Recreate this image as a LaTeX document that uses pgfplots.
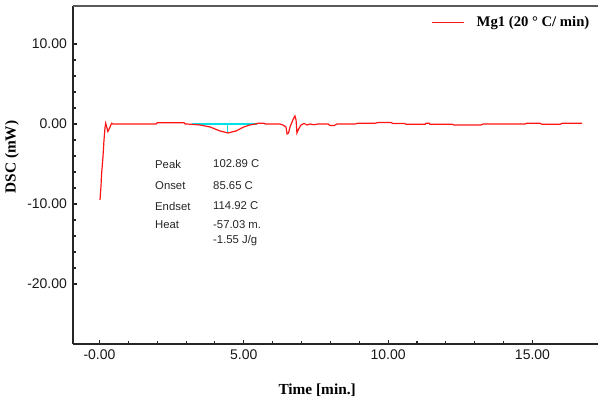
\documentclass[border=0pt]{standalone}
\usepackage{pgfplots}
\pgfplotsset{compat=1.18}
\usepackage{fontspec}
\setmainfont{Liberation Sans}
\newfontfamily\serifb{Liberation Serif}
\definecolor{dscred}{RGB}{255,20,20}
\definecolor{dsccyan}{RGB}{0,225,230}
\begin{document}
\begin{tikzpicture}
\begin{axis}[
  scale only axis, width=393.75pt, height=253.5pt,
  xmin=-0.918, xmax=17.27, ymin=-27.5, ymax=14.75,
  axis x line*=bottom, axis y line*=left,
  axis line style={-, line width=1pt, black!85},
  xtick={0,5,10,15}, xticklabels={-0.00,5.00,10.00,15.00},
  minor x tick num=4,
  ytick={-20,-10,0,10}, yticklabels={-20.00,-10.00,0.00,10.00},
  minor y tick num=4,
  tick align=inside, major tick length=3pt, minor tick length=2pt,
  tick style={black!85, line width=0.8pt},
  ticklabel style={font=\fontsize{10.5}{12}\selectfont, text=black!90},
  xticklabel style={yshift=-1pt},
  yticklabel style={xshift=-1pt},
  xlabel={Time [min.]}, ylabel={DSC (mW)},
  xlabel style={font=\serifb\bfseries\fontsize{11.5}{13}\selectfont, at={(rel axis cs:0.465,0)}, anchor=center, yshift=-34.5pt},
  ylabel style={font=\serifb\bfseries\fontsize{11.5}{13}\selectfont, at={(rel axis cs:0,0.553)}, anchor=center, rotate=0, yshift=45.75pt},
  legend style={draw=none, fill=none, at={(0.989,0.95)}, anchor=east, inner sep=0pt,
    font=\serifb\bfseries\fontsize{11}{13}\selectfont},
  legend image code/.code={\draw[#1] (0pt,0pt) -- (24pt,0pt); \path (31pt,0pt);},
  clip=false,
]
\coordinate (O) at (rel axis cs:0,0);
\coordinate (T) at (rel axis cs:1,1);
\draw[black!65, line width=1pt] (rel axis cs:0,1) -- (rel axis cs:1,1);
% baseline and peak marker
\addplot[dsccyan, line width=1pt, forget plot] coordinates {(3.2,0.0) (5.46,0.0)};
\addplot[dsccyan, line width=0.8pt, forget plot] coordinates {(4.45,0.0) (4.45,-1.1)};
\addplot[dscred, line width=0.9pt] coordinates {
(0.017,-9.5) (0.052,-7.75) (0.069,-6.4) (0.121,-4.1) (0.156,-2.0) (0.19,-0.5)
(0.215,0.09) (0.24,-0.25) (0.29,-0.94) (0.35,-0.5) (0.42,0.09) (0.47,0.0)
(1.96,0.0) (2.0,0.15) (2.93,0.15) (2.97,0.0) (3.03,0.0)
(3.48,-0.12) (3.83,-0.37) (4.17,-0.87) (4.45,-1.12) (4.73,-0.87) (5.0,-0.37)
(5.21,-0.12) (5.42,0.0) (5.5,0.1) (5.7,0.1) (5.75,0.0)
(6.25,0.0) (6.35,-0.12) (6.46,-0.37) (6.5,-1.25) (6.55,-1.12) (6.6,-0.37)
(6.7,0.5) (6.77,1.0) (6.81,0.5) (6.84,-1.12) (6.9,-0.62) (6.98,-0.12)
(7.09,0.06) (7.19,-0.12) (7.29,0.0) (7.43,-0.09) (7.57,0.0) (7.92,0.0)
(7.99,-0.19) (8.13,-0.19) (8.23,0.0) (8.85,0.0) (8.96,0.09) (9.55,0.09)
(9.65,0.19) (10.1,0.19) (10.17,0.06) (10.58,0.06) (10.62,-0.04) (11.28,-0.04)
(11.31,0.1) (11.42,0.1) (11.45,-0.03) (12.21,-0.03) (12.28,-0.12) (13.22,-0.12)
(13.29,0.0) (14.74,0.0) (14.81,0.1) (15.26,0.1) (15.33,-0.04) (15.96,-0.04)
(16.03,0.09) (16.72,0.09)
};
\addlegendentry{Mg1 (20 ° C/ min)}
\begin{scope}[every node/.style={anchor=west, font=\fontsize{8.5}{10}\selectfont, text=black!85, inner sep=0pt}]
\node at (axis cs:1.92,-5.0) {Peak};
\node at (axis cs:3.93,-5.0) {102.89 C};
\node at (axis cs:1.92,-7.75) {Onset};
\node at (axis cs:3.93,-7.75) {85.65 C};
\node at (axis cs:1.92,-10.25) {Endset};
\node at (axis cs:3.93,-10.25) {114.92 C};
\node at (axis cs:1.92,-12.6) {Heat};
\node at (axis cs:3.93,-12.6) {-57.03 m.};
\node at (axis cs:3.93,-14.6) {-1.55 J/g};
\end{scope}
\end{axis}
\pgfresetboundingbox
\path ([shift={(-54.75pt,-43.5pt)}]O) rectangle ([shift={(0pt,4.5pt)}]T);
\end{tikzpicture}
\end{document}
